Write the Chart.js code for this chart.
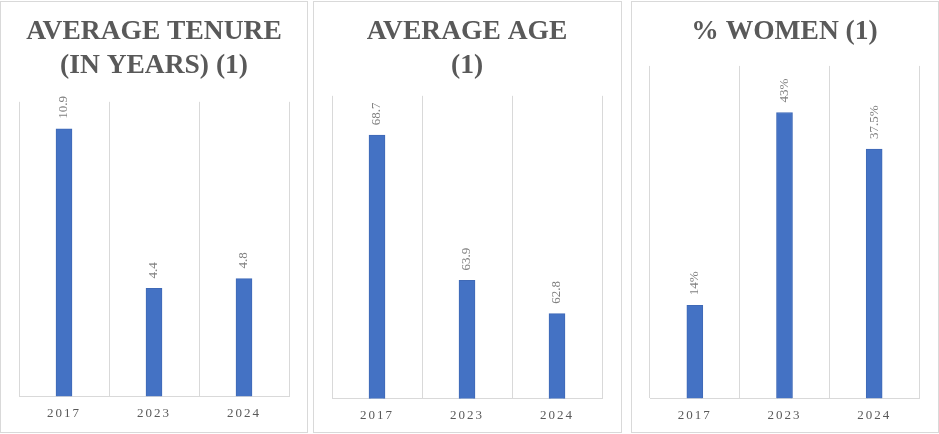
<!DOCTYPE html>
<html>
<head>
<meta charset="utf-8">
<script src="https://cdn.jsdelivr.net/npm/chart.js@4"></script>
<style>
  html, body { margin: 0; padding: 0; background: #ffffff; }
  body { width: 939px; height: 434px; position: relative; overflow: hidden; }
  .panel { position: absolute; border: 1px solid #d9d9d9; box-sizing: content-box; background: #fff; }
  .panel canvas { display: block; }
</style>
</head>
<body>
<div class="panel" id="p1" style="left:0px; top:1px; width:306px; height:430px;"><canvas id="c1"></canvas></div>
<div class="panel" id="p2" style="left:313px; top:1px; width:307px; height:430px;"><canvas id="c2"></canvas></div>
<div class="panel" id="p3" style="left:631px; top:1px; width:306px; height:430px;"><canvas id="c3"></canvas></div>
<script>
// ---- Data ----
const categories = ['2017', '2023', '2024'];
const tenureValues = [10.9, 4.4, 4.8];
const ageValues = [68.7, 63.9, 62.8];
const womenValues = [14, 43, 37.5];
const tenureTitle = ['AVERAGE TENURE', '(IN YEARS) (1)'];
const ageTitle = ['AVERAGE AGE', '(1)'];
const womenTitle = ['% WOMEN (1)'];

const SERIF = "'Liberation Serif', 'Times New Roman', Times, serif";

class SpacedCategory extends Chart.CategoryScale {
  drawLabels(chartArea) {
    const ctx = this.ctx;
    ctx.save();
    ctx.letterSpacing = '2px';
    super.drawLabels(chartArea);
    ctx.restore();
  }
}
SpacedCategory.id = 'spacedCategory';
SpacedCategory.defaults = Chart.CategoryScale.defaults;
Chart.register(SpacedCategory);

const rotatedLabels = {
  id: 'rotatedLabels',
  afterDatasetsDraw(chart, args, opts) {
    const ctx = chart.ctx;
    const meta = chart.getDatasetMeta(0);
    const ds = chart.data.datasets[0];
    meta.data.forEach((bar, i) => {
      const txt = String(ds.data[i]) + (opts.suffix || '');
      ctx.save();
      ctx.letterSpacing = '0px';
      ctx.translate(bar.x, bar.y - 10);
      ctx.rotate(-Math.PI / 2);
      ctx.font = '13px ' + SERIF;
      ctx.fillStyle = '#808080';
      ctx.textAlign = 'left';
      ctx.textBaseline = 'middle';
      ctx.fillText(txt, 0, 0);
      ctx.restore();
    });
  }
};

function makeChart(id, values, title, yMin, yMax, suffix, titlePadBottom, layoutPad) {
  return new Chart(document.getElementById(id), {
    type: 'bar',
    data: {
      labels: categories,
      datasets: [{
        data: values,
        backgroundColor: '#4472c4',
        borderColor: '#3f69b6',
        borderWidth: 1,
        barThickness: 16
      }]
    },
    options: {
      responsive: true,
      maintainAspectRatio: false,
      animation: false,
      devicePixelRatio: 1,
      layout: { padding: layoutPad },
      plugins: {
        legend: { display: false },
        tooltip: { enabled: false },
        title: {
          display: true,
          text: title,
          color: '#595959',
          font: { family: SERIF, size: 27.5, weight: 'bold', lineHeight: 1.27 },
          padding: { top: 12, bottom: titlePadBottom }
        },
        rotatedLabels: { suffix: suffix }
      },
      scales: {
        x: {
          type: 'spacedCategory',
          offset: true,
          grid: { offset: true, color: '#d9d9d9', drawTicks: false, lineWidth: 1 },
          border: { display: true, color: '#d9d9d9' },
          ticks: { color: '#595959', font: { family: SERIF, size: 13 }, padding: 9 }
        },
        y: {
          display: false,
          min: yMin,
          max: yMax
        }
      }
    },
    plugins: [rotatedLabels]
  });
}

makeChart('c1', tenureValues, tenureTitle, 0, 12, '', 18, { left: 18, right: 18, top: 0, bottom: 2 });
makeChart('c2', ageValues, ageTitle, 60, 70, '', 12, { left: 18, right: 19, top: 0, bottom: 0 });
makeChart('c3', womenValues, womenTitle, 0, 50, '%', 17, { left: 18, right: 19, top: 0, bottom: 0 });
</script>
</body>
</html>
